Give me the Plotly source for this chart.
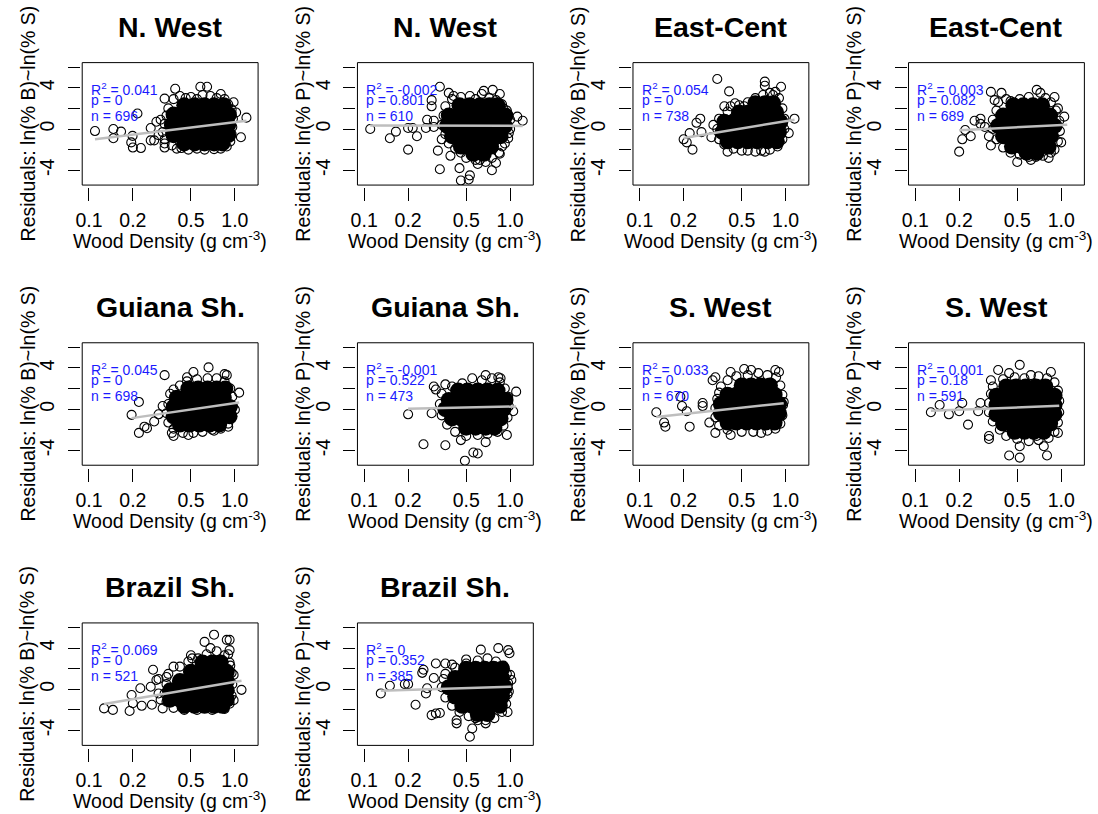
import plotly.graph_objects as go

# ---------------- data ----------------
titles = ["N. West", "N. West", "East-Cent", "East-Cent", "Guiana Sh.", "Guiana Sh.",
          "S. West", "S. West", "Brazil Sh.", "Brazil Sh."]
ylabels = ["Residuals: ln(% B)~ln(% S)", "Residuals: ln(% P)~ln(% S)"] * 5
r2_vals = ["0.041", "-0.002", "0.054", "0.003", "0.045", "-0.001", "0.033", "0.001", "0.069", "0"]
p_vals = ["0", "0.801", "0", "0.082", "0", "0.522", "0", "0.18", "0", "0.352"]
n_vals = [696, 610, 738, 689, 698, 473, 670, 591, 521, 385]

# fitted regression line end points (wood density, residual)
fit_x = [(0.11, 1.2), (0.11, 1.22), (0.2, 1.15), (0.2, 1.1), (0.196, 1.07),
         (0.2, 1.1), (0.13, 0.97), (0.128, 0.97), (0.127, 1.11), (0.13, 1.02)]
fit_y = [(-1.0, 0.8), (0.35, 0.3), (-0.87, 0.9), (-0.13, 0.42), (-0.87, 0.64),
         (0.03, 0.26), (-0.77, 0.58), (-0.16, 0.32), (-1.43, 0.84), (-0.13, 0.26)]

x_tickvals = [0.1, 0.2, 0.5, 1.0]
x_ticktext = ["0.1", "0.2", "0.5", "1.0"]
y_tickvals = [-4, -2, 0, 2, 4, 6]
y_ticktext = ["-4", " ", "0", " ", "4", " "]

# individual (sparse) points: (wood density, residual)
nw_b_pts = [(0.11, -0.2), (0.147, 0.0), (0.147, -0.9), (0.166, -0.25), (0.199, -0.67), (0.195, -1.3),
            (0.2, -1.8), (0.227, -1.85), (0.215, 1.5), (0.265, 0.1), (0.265, -1.1), (0.29, 0.7),
            (0.28, -1.1), (0.33, 2.95), (0.39, 3.9), (0.33, -1.8), (0.33, -1.4), (0.58, 4.1),
            (0.645, 4.1), (0.8, 3.4), (0.98, 2.6), (1.02, 1.6), (1.2, 1.1), (1.1, -0.8),
            (0.72, -1.95), (0.4, -1.9), (0.38, 2.9), (0.42, 3.2), (0.46, 3.0), (0.5, 3.1),
            (0.55, 2.9), (0.6, 3.3), (0.68, 3.2), (0.75, 3.0), (0.85, 2.9), (0.9, 2.4),
            (0.95, 1.9), (0.97, 1.0), (0.96, 0.2), (0.95, -0.5), (0.93, -1.2), (0.88, -1.7),
            (0.8, -1.9), (0.62, -2.0), (0.55, -1.9), (0.48, -2.0), (0.43, -1.85), (0.37, -1.6),
            (0.33, -1.0), (0.32, -0.3), (0.33, 0.5), (0.34, 1.3), (0.35, 2.0), (0.31, 0.9),
            (0.3, -0.6), (0.36, -0.4)]
nw_p_pts = [(0.11, 0.0), (0.15, -0.9), (0.165, -0.25), (0.2, -2.0), (0.2, 0.1), (0.23, -0.7),
            (0.215, 0.1), (0.265, 0.1), (0.27, 0.9), (0.29, 2.8), (0.29, 2.2), (0.3, 0.8),
            (0.3, 0.2), (0.33, 4.1), (0.32, -2.1), (0.33, -3.9), (0.34, -1.0), (0.39, -2.6),
            (0.45, -3.8), (0.46, -5.0), (0.52, -4.9), (0.53, -4.5), (0.6, -3.4), (0.62, -3.0),
            (0.75, -4.0), (0.8, -3.3), (0.84, -2.3), (0.88, -1.7), (1.22, 0.8), (1.12, 1.2),
            (0.98, -0.4), (0.85, 3.4), (0.76, 3.8), (0.66, 3.7), (0.38, 3.5), (0.41, 3.2),
            (0.9, 2.0), (0.36, 2.2), (0.4, 2.9), (0.46, 3.1), (0.53, 3.2), (0.58, 2.9),
            (0.64, 3.4), (0.72, 3.0), (0.8, 2.8), (0.88, 2.4), (0.95, 1.8), (1.0, 0.9),
            (1.0, 0.0), (0.97, -0.9), (0.92, -1.4), (0.85, -2.4), (0.75, -2.8), (0.68, -3.2),
            (0.58, -3.0), (0.5, -2.8), (0.46, -2.3), (0.42, -1.9), (0.38, -1.4), (0.36, -0.5),
            (0.34, 0.4), (0.35, 1.3)]
ec_b_pts = [(0.34, 4.85), (0.41, 3.65), (0.2, -1.0), (0.21, -1.3), (0.23, -2.0), (0.22, -0.4),
            (0.245, 0.6), (0.26, 1.0), (0.265, -0.3), (0.32, 0.4), (0.31, -0.8), (0.38, 2.2),
            (0.72, 4.6), (0.72, 4.2), (0.93, 4.1), (1.15, 1.0), (1.05, -0.4), (0.5, -2.1),
            (0.4, -2.2), (0.72, -2.2), (0.85, 3.6), (0.82, 3.3), (0.35, 1.0), (0.34, 0.0),
            (0.35, -1.0), (0.38, -1.5), (0.44, -1.9), (0.55, -2.1), (0.62, -2.2), (0.68, -2.1),
            (0.78, -2.0), (0.88, -1.7), (0.95, -1.0), (0.98, 0.0), (0.98, 1.0), (0.95, 2.0),
            (0.9, 3.0), (0.78, 3.5), (0.7, 3.3), (0.62, 3.0), (0.55, 2.6), (0.48, 2.3),
            (0.42, 2.2), (0.4, 1.7), (0.45, 2.5), (0.52, 2.2)]
ec_p_pts = [(0.2, -2.2), (0.21, -1.0), (0.24, -0.7), (0.22, -0.1), (0.255, 0.8), (0.28, 1.0),
            (0.33, 3.6), (0.35, 2.8), (0.37, 2.6), (0.39, 3.5), (0.32, -0.7), (0.33, -1.6),
            (0.5, -3.2), (0.62, -3.0), (0.67, -2.7), (0.85, -2.3), (0.82, -2.8), (1.0, -1.3),
            (1.05, 1.2), (0.9, 3.1), (0.68, 3.8), (0.72, 3.5), (0.95, 2.0), (0.42, 2.9),
            (0.36, 1.8), (0.45, 2.7), (0.52, 2.9), (0.6, 3.1), (0.78, 3.0), (0.85, 2.6),
            (0.92, 1.8), (0.97, 0.8), (0.98, -0.2), (0.95, -1.2), (0.9, -2.0), (0.75, -2.6),
            (0.6, -2.7), (0.52, -2.5), (0.45, -2.3), (0.4, -1.8), (0.36, -1.0), (0.34, 0.0),
            (0.34, 0.9), (0.28, 0.5), (0.3, 0.2)]
gs_b_pts = [(0.196, -0.55), (0.22, -2.3), (0.24, -1.7), (0.25, -1.85), (0.22, 0.7), (0.33, 3.3),
            (0.37, -2.3), (0.38, -2.6), (0.52, 3.6), (0.66, 4.05), (0.85, 3.4), (0.88, 3.3),
            (1.07, 1.6), (1.0, -0.05), (0.72, -2.1), (0.9, -1.7), (0.48, -2.5), (0.36, 1.5),
            (0.35, 0.5), (0.34, -0.4), (0.35, -1.3), (0.38, -1.9), (0.44, -2.3), (0.52, -2.3),
            (0.6, -2.2), (0.7, -2.0), (0.8, -1.9), (0.9, -1.4), (0.95, -0.6), (0.97, 0.3),
            (0.96, 1.2), (0.93, 2.0), (0.85, 2.7), (0.75, 3.0), (0.65, 3.0), (0.55, 2.9),
            (0.47, 2.7), (0.42, 2.3), (0.38, 1.9), (0.47, 3.1), (0.3, -0.5), (0.32, 0.3),
            (0.28, -1.2)]
gs_p_pts = [(0.2, -0.5), (0.255, -3.4), (0.36, -3.5), (0.3, 2.2), (0.31, 1.9), (0.29, -0.4),
            (0.49, -5.0), (0.56, -4.2), (0.6, -4.3), (0.46, -3.0), (0.68, -3.2), (0.83, 3.1),
            (0.86, 3.0), (0.68, 3.3), (1.1, 1.7), (1.05, -0.2), (0.95, -2.5), (0.55, 3.0),
            (0.34, 1.5), (0.33, 0.5), (0.34, -0.6), (0.37, -1.5), (0.42, -2.2), (0.5, -2.6),
            (0.6, -2.5), (0.7, -2.4), (0.82, -2.2), (0.9, -1.6), (0.96, -0.8), (0.98, 0.3),
            (0.97, 1.2), (0.92, 2.0), (0.85, 2.6), (0.75, 3.0), (0.64, 2.8), (0.47, 2.5),
            (0.4, 2.2), (0.36, 2.4)]
sw_b_pts = [(0.13, -0.3), (0.147, -1.3), (0.15, -1.7), (0.19, 1.2), (0.195, 0.3), (0.21, -0.2),
            (0.22, -1.7), (0.27, 0.3), (0.27, 0.6), (0.3, -1.3), (0.316, 2.8), (0.33, 3.1),
            (0.42, 3.6), (0.52, 3.9), (0.58, 3.8), (0.85, 3.8), (0.9, 3.6), (0.97, 0.7),
            (0.68, -2.3), (0.42, -2.5), (0.33, -2.3), (0.36, 2.2), (0.4, 2.8), (0.46, 3.2),
            (0.55, 3.3), (0.65, 3.5), (0.75, 3.3), (0.86, 3.1), (0.92, 2.3), (0.95, 1.4),
            (0.96, 0.4), (0.95, -0.6), (0.92, -1.4), (0.85, -1.9), (0.75, -2.1), (0.6, -2.2),
            (0.5, -2.2), (0.4, -2.0), (0.35, -1.6), (0.33, -0.8), (0.33, 0.1), (0.34, 1.0),
            (0.35, 1.6)]
sw_p_pts = [(0.128, -0.3), (0.147, 0.4), (0.17, -0.5), (0.21, 0.6), (0.2, -0.2), (0.23, -1.5),
            (0.27, -0.2), (0.28, 0.6), (0.32, -2.6), (0.32, -2.9), (0.37, 3.8), (0.44, 3.5),
            (0.52, 4.3), (0.44, -4.5), (0.52, -4.7), (0.76, -3.6), (0.8, -4.5), (0.68, -2.6),
            (0.95, -2.3), (0.85, 3.6), (0.62, 3.3), (0.33, 2.8), (0.52, -3.6), (0.34, 2.2),
            (0.4, 2.9), (0.48, 3.1), (0.56, 3.0), (0.7, 3.2), (0.8, 3.0), (0.9, 2.6),
            (0.95, 1.8), (0.97, 0.8), (0.97, -0.3), (0.95, -1.3), (0.9, -2.2), (0.82, -2.8),
            (0.7, -3.0), (0.6, -3.1), (0.5, -2.9), (0.42, -2.6), (0.38, -2.0), (0.34, -1.2),
            (0.32, -0.3), (0.32, 0.6), (0.33, 1.5)]
bs_b_pts = [(0.127, -1.85), (0.146, -2.0), (0.19, -2.1), (0.196, -0.55), (0.2, -1.35), (0.225, 0.1),
            (0.23, -1.6), (0.265, 0.25), (0.27, -1.5), (0.275, 1.9), (0.29, 0.9), (0.3, -0.4),
            (0.32, -1.85), (0.34, 1.2), (0.38, 2.2), (0.5, 3.3), (0.51, 3.0), (0.62, 4.6),
            (0.72, 5.3), (0.88, 4.8), (0.92, 4.8), (0.92, 3.8), (0.9, 3.4), (0.68, 4.0),
            (1.11, -0.05), (0.98, -1.05), (0.98, 1.4), (0.93, 2.3), (0.35, 1.5), (0.42, 2.2),
            (0.48, 2.7), (0.56, 3.0), (0.64, 3.4), (0.75, 3.7), (0.85, 3.3), (0.92, 2.6),
            (0.95, 1.6), (0.96, 0.5), (0.95, -0.6), (0.92, -1.4), (0.85, -1.9), (0.7, -2.0),
            (0.55, -2.0), (0.45, -2.0), (0.38, -1.8), (0.34, -1.2), (0.33, -0.4), (0.34, 0.5),
            (0.3, 1.0), (0.31, -1.0)]
bs_p_pts = [(0.13, -0.4), (0.15, 0.35), (0.19, 0.5), (0.2, 0.5), (0.225, -1.5), (0.25, 1.6),
            (0.255, 1.9), (0.265, -0.4), (0.27, 0.1), (0.29, -2.5), (0.31, -2.35), (0.33, -2.3),
            (0.3, 1.1), (0.31, 2.5), (0.36, 2.5), (0.4, 2.4), (0.43, -3.0), (0.43, -3.3),
            (0.5, 2.9), (0.53, -4.6), (0.55, -3.8), (0.58, -2.8), (0.63, 3.85), (0.68, -3.3),
            (0.83, 4.0), (0.97, 3.8), (0.99, 3.5), (1.0, 1.4), (1.02, 0.9), (0.96, -2.2),
            (0.98, -0.2), (0.36, 1.5), (0.42, 2.1), (0.5, 2.5), (0.6, 2.8), (0.7, 3.0),
            (0.8, 2.7), (0.9, 2.3), (0.95, 1.5), (0.97, 0.6), (0.96, -0.5), (0.94, -1.4),
            (0.88, -2.2), (0.78, -2.8), (0.68, -3.0), (0.6, -3.0), (0.52, -2.6), (0.45, -2.2),
            (0.4, -1.6), (0.36, -0.8), (0.34, 0.2), (0.35, 1.0)]

# dense cores (where hundreds of overlapping circles merge): (residual, [wood densities])
nw_b_core = [(2.3, [0.45, 0.53, 0.62, 0.72, 0.84]),
             (1.4, [0.38, 0.44, 0.51, 0.59, 0.69, 0.8, 0.91]),
             (0.4, [0.37, 0.43, 0.5, 0.58, 0.68, 0.79, 0.9]),
             (-0.6, [0.38, 0.44, 0.51, 0.59, 0.69, 0.8, 0.9]),
             (-1.4, [0.45, 0.53, 0.62, 0.72, 0.82])]
nw_p_core = [(2.3, [0.45, 0.53, 0.62, 0.72, 0.82]),
             (1.3, [0.38, 0.44, 0.51, 0.6, 0.7, 0.82, 0.93]),
             (0.3, [0.37, 0.43, 0.5, 0.58, 0.68, 0.79, 0.92]),
             (-0.7, [0.4, 0.46, 0.54, 0.63, 0.74, 0.86]),
             (-1.7, [0.46, 0.54, 0.63, 0.74]),
             (-2.4, [0.56, 0.66])]
ec_b_core = [(2.5, [0.62, 0.72, 0.82]),
             (1.6, [0.48, 0.56, 0.65, 0.75, 0.86]),
             (0.7, [0.38, 0.44, 0.51, 0.59, 0.69, 0.8, 0.92]),
             (-0.3, [0.37, 0.43, 0.5, 0.58, 0.68, 0.79, 0.9]),
             (-1.2, [0.4, 0.47, 0.55, 0.64, 0.75, 0.87])]
ec_p_core = [(2.3, [0.47, 0.55, 0.64, 0.74]),
             (1.3, [0.4, 0.46, 0.54, 0.63, 0.73, 0.84]),
             (0.3, [0.37, 0.43, 0.5, 0.58, 0.68, 0.79, 0.9]),
             (-0.7, [0.4, 0.46, 0.54, 0.63, 0.73, 0.85]),
             (-1.7, [0.46, 0.54, 0.63, 0.73, 0.82]),
             (-2.3, [0.58, 0.68])]
gs_b_core = [(2.0, [0.48, 0.56, 0.65, 0.75, 0.86]),
             (1.1, [0.4, 0.46, 0.54, 0.63, 0.73, 0.84]),
             (0.2, [0.38, 0.44, 0.51, 0.59, 0.69, 0.8, 0.92]),
             (-0.7, [0.38, 0.44, 0.51, 0.59, 0.69, 0.8, 0.92]),
             (-1.5, [0.42, 0.49, 0.57, 0.67, 0.78])]
gs_p_core = [(1.8, [0.44, 0.51, 0.6, 0.7, 0.82]),
             (0.9, [0.38, 0.44, 0.51, 0.6, 0.7, 0.82, 0.93]),
             (0.0, [0.36, 0.42, 0.49, 0.57, 0.67, 0.78, 0.9]),
             (-0.9, [0.4, 0.46, 0.54, 0.63, 0.74, 0.86]),
             (-1.8, [0.5, 0.58, 0.68, 0.78])]
sw_b_core = [(2.3, [0.5, 0.58, 0.67, 0.78]),
             (1.4, [0.4, 0.46, 0.54, 0.63, 0.73, 0.84]),
             (0.5, [0.36, 0.42, 0.49, 0.57, 0.67, 0.78, 0.9]),
             (-0.4, [0.36, 0.42, 0.49, 0.57, 0.67, 0.78, 0.9]),
             (-1.3, [0.4, 0.46, 0.54, 0.63, 0.73, 0.84])]
sw_p_core = [(2.2, [0.42, 0.49, 0.57, 0.67, 0.78]),
             (1.3, [0.36, 0.42, 0.49, 0.57, 0.67, 0.78, 0.9]),
             (0.4, [0.36, 0.42, 0.49, 0.57, 0.67, 0.78, 0.9]),
             (-0.5, [0.36, 0.42, 0.49, 0.57, 0.67, 0.78, 0.9]),
             (-1.4, [0.4, 0.46, 0.54, 0.63, 0.73, 0.84]),
             (-2.2, [0.48, 0.56, 0.65, 0.76])]
bs_b_core = [(2.6, [0.6, 0.7, 0.8]),
             (1.7, [0.5, 0.58, 0.67, 0.77, 0.88]),
             (0.8, [0.42, 0.49, 0.57, 0.66, 0.76, 0.88]),
             (-0.1, [0.36, 0.42, 0.49, 0.57, 0.66, 0.76, 0.88]),
             (-1.0, [0.36, 0.42, 0.49, 0.57, 0.66, 0.76, 0.88]),
             (-1.6, [0.45, 0.53, 0.62, 0.72, 0.82])]
bs_p_core = [(2.0, [0.5, 0.58, 0.67, 0.77, 0.88]),
             (1.1, [0.42, 0.49, 0.57, 0.66, 0.76, 0.88]),
             (0.2, [0.38, 0.44, 0.51, 0.59, 0.69, 0.8, 0.92]),
             (-0.7, [0.42, 0.49, 0.57, 0.66, 0.76, 0.88]),
             (-1.6, [0.47, 0.55, 0.64, 0.74, 0.85]),
             (-2.4, [0.6, 0.7])]

panel_pts = [nw_b_pts, nw_p_pts, ec_b_pts, ec_p_pts, gs_b_pts, gs_p_pts, sw_b_pts, sw_p_pts, bs_b_pts, bs_p_pts]
panel_core = [nw_b_core, nw_p_core, ec_b_core, ec_p_core, gs_b_core, gs_p_core, sw_b_core, sw_p_core, bs_b_core, bs_p_core]

# ---------------- layout geometry (pixels) ----------------
W, H = 1098, 814
COL_LEFT = [75.7, 352.7, 630.0, 907.3]
ROW_TOP = [61.7, 342.2, 622.7]
BOX_W, BOX_H = 177.0, 122.6
FONT = "Liberation Sans, Arial, Helvetica, sans-serif"
AX_FS = 19.5

fig = go.Figure()
layout = dict(width=W, height=H, margin=dict(l=0, r=0, t=0, b=0),
              paper_bgcolor="white", plot_bgcolor="white", showlegend=False,
              font=dict(family=FONT, color="black", size=AX_FS))
annotations = []
shapes = []

for i in range(10):
    r, c = divmod(i, 4)
    left, top = COL_LEFT[c], ROW_TOP[r]
    bottom = top + BOX_H
    k = "" if i == 0 else str(i + 1)
    xa, ya = "x" + k, "y" + k

    layout["xaxis" + k] = dict(
        type="log", range=[-1.046, 0.159],
        domain=[left / W, (left + BOX_W) / W],
        anchor="free", position=1 - (bottom + 2.4) / H,
        tickvals=x_tickvals, ticktext=x_ticktext,
        ticks="outside", ticklen=13, tickwidth=1, tickcolor="black",
        ticklabelstandoff=2,
        showline=False, showgrid=False, zeroline=False,
        tickfont=dict(size=AX_FS, family=FONT, color="black"))
    layout["yaxis" + k] = dict(
        range=[-5.44, 6.44],
        domain=[1 - bottom / H, 1 - top / H],
        anchor="free", position=(left - 2) / W,
        tickvals=y_tickvals, ticktext=y_ticktext, tickangle=-90,
        ticks="outside", ticklen=12, tickwidth=1, tickcolor="black",
        ticklabelstandoff=6,
        showline=False, showgrid=False, zeroline=False,
        tickfont=dict(size=AX_FS, family=FONT, color="black"))

    # dense core
    cx, cy = [], []
    for yv, xs in panel_core[i]:
        for xv in xs:
            cx.append(xv)
            cy.append(yv)
    fig.add_trace(go.Scatter(x=cx, y=cy, mode="markers", xaxis=xa, yaxis=ya,
                             marker=dict(symbol="circle", size=16, color="black"),
                             hoverinfo="skip"))
    # individual points
    px_, py_ = zip(*panel_pts[i])
    fig.add_trace(go.Scatter(x=list(px_), y=list(py_), mode="markers", xaxis=xa, yaxis=ya,
                             marker=dict(symbol="circle-open", size=9, color="black",
                                         line=dict(width=1.1, color="black"))))
    # regression line
    fig.add_trace(go.Scatter(x=list(fit_x[i]), y=list(fit_y[i]), mode="lines",
                             xaxis=xa, yaxis=ya, line=dict(color="#BEBEBE", width=2.5)))

    # box
    shapes.append(dict(type="rect", xref=xa + " domain", yref=ya + " domain",
                       x0=0, x1=1, y0=0, y1=1, line=dict(color="black", width=1)))

    cxp = (left + BOX_W / 2) / W
    # title
    annotations.append(dict(text="<b>" + titles[i] + "</b>", xref="paper", yref="paper",
                            x=cxp, y=1 - (top - 18.5) / H, xanchor="center", yanchor="bottom",
                            showarrow=False, borderpad=0,
                            font=dict(size=28.5, family=FONT, color="black")))
    # x title
    annotations.append(dict(text="Wood Density (g cm<sup>-3</sup>)", xref="paper", yref="paper",
                            x=cxp, y=1 - (bottom + 68) / H, xanchor="center", yanchor="bottom",
                            showarrow=False, borderpad=0,
                            font=dict(size=AX_FS, family=FONT, color="black")))
    # y title
    annotations.append(dict(text=ylabels[i], xref="paper", yref="paper", textangle=-90,
                            x=(left - 55) / W, y=1 - (top + BOX_H / 2) / H,
                            xanchor="center", yanchor="middle", showarrow=False, borderpad=0,
                            font=dict(size=AX_FS, family=FONT, color="black")))
    # stats text
    stats = ["R<sup>2</sup> = " + r2_vals[i], "p = " + p_vals[i], "n = " + str(n_vals[i])]
    baselines = [33.5, 43.5, 59.5]
    for s, b in zip(stats, baselines):
        annotations.append(dict(text=s, xref="paper", yref="paper",
                                x=(left + 8) / W, y=1 - (top + b + 3) / H,
                                xanchor="left", yanchor="bottom", showarrow=False, borderpad=0,
                                font=dict(size=14, family=FONT, color="#1a1aff")))

layout["annotations"] = annotations
layout["shapes"] = shapes
fig.update_layout(**layout)
fig.write_html("out.html")
